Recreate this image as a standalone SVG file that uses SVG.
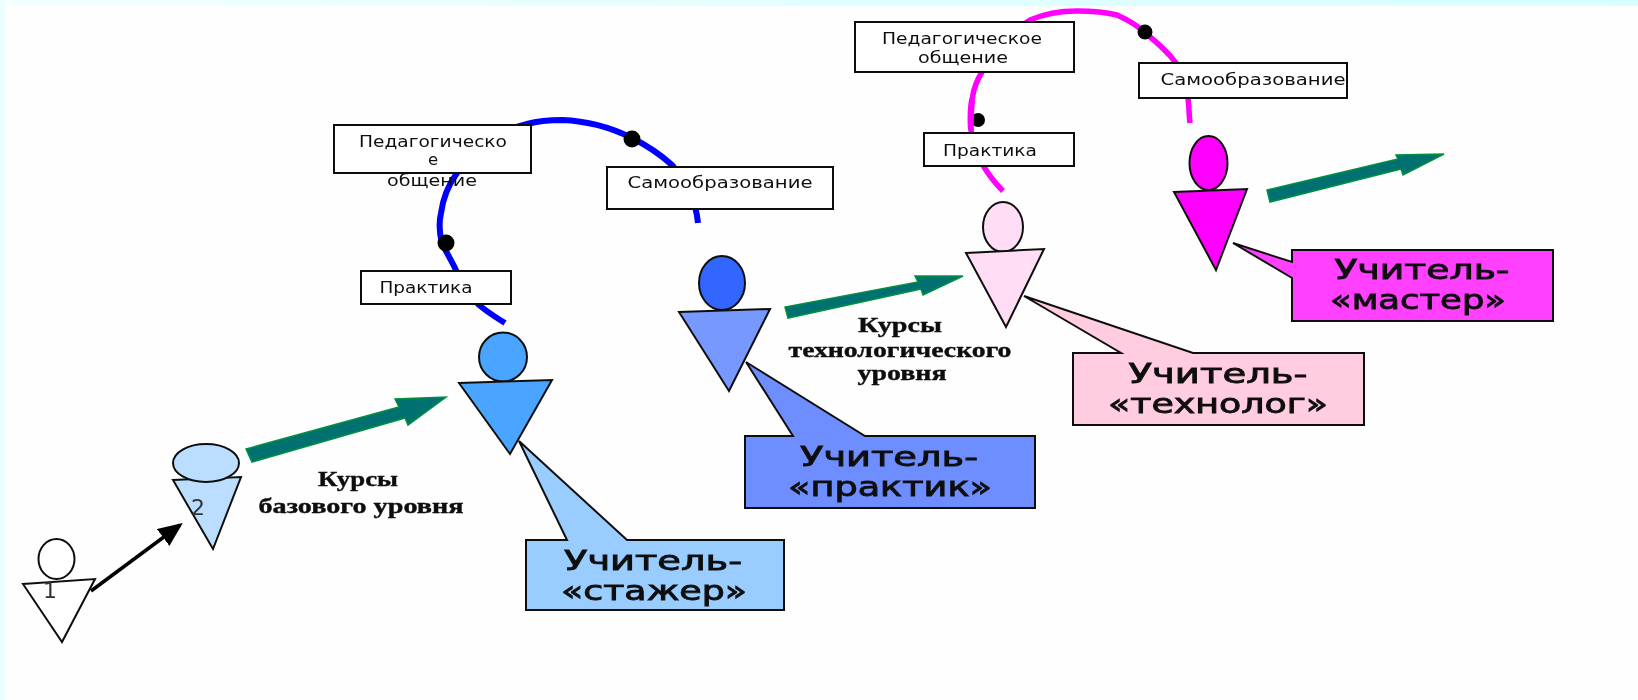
<svg xmlns="http://www.w3.org/2000/svg" width="1638" height="700" viewBox="0 0 1638 700">
<style>
.fig{stroke:#111;stroke-width:2}
.box{fill:#fff;stroke:#111;stroke-width:2}
.call{stroke:#111;stroke-width:2}
.small{font-family:"DejaVu Sans",sans-serif;font-size:16.5px;fill:#111}
.big{font-family:"DejaVu Sans",sans-serif;font-size:27px;fill:#111;stroke:#111;stroke-width:.9}
.serif{font-family:"Liberation Serif",serif;font-size:22px;font-weight:bold;fill:#111;stroke:#111;stroke-width:.4}
.num{font-family:"DejaVu Sans",sans-serif;font-size:22px;fill:#333}
.arcb{fill:none;stroke:#0000ff;stroke-width:6}
.arcm{fill:none;stroke:#ff00ff;stroke-width:5.5}
.green{fill:#007070;stroke:#009040;stroke-width:1.5}
.dot{fill:#000}
</style>
<defs>
<linearGradient id="edge" x1="0" x2="1" y1="0" y2="0"><stop offset="0" stop-color="#f4ffff"/><stop offset=".5" stop-color="#e2ffff"/><stop offset="1" stop-color="#d8ffff"/></linearGradient>
<marker id="head" markerWidth="7" markerHeight="6" refX="6" refY="3" orient="auto"><path d="M0 0L7 3L0 6Z" fill="#000"/></marker>
<filter id="soft" x="-2%" y="-2%" width="104%" height="104%"><feGaussianBlur stdDeviation="0.7"/></filter>
</defs>
<rect width="1638" height="700" fill="#fefefe"/>
<rect width="1638" height="6" fill="url(#edge)"/>
<rect width="5" height="700" fill="#ecffff"/>
<g filter="url(#soft)">
<g id="connectors">
<path class="arcb" d="M505 323C492 315 484 310 477 303C466 291 459 280 455 268C450 258 445 250 442 243C439 232 439 222 441 213C443 198 449 184 457 173C473 150 500 130 527 124C538 121 549 120 562 120C588 121 612 128 632 138C648 146 661 155 672 165C684 178 696 200 698 223"/>
<path class="arcm" d="M1003 191C995 183 989 175 984 167C976 152 972 140 970.5 127C970 116 970 106 972.5 97C974 87 977 80 982 72C993 50 1010 32 1030 20C1046 13 1061 11 1077 11C1092 11 1105 12 1117 15C1128 20 1137 25 1144 32C1158 43 1168 52 1176 63C1183 75 1187 86 1188 98C1189 106 1189 115 1190 123"/>
<circle class="dot" cx="632" cy="139" r="8.5"/>
<circle class="dot" cx="446" cy="243" r="8.5"/>
<circle class="dot" cx="1145" cy="32" r="7.5"/>
<circle class="dot" cx="978" cy="120" r="7"/>
<path class="arcm" d="M972.5 100C971 110 971 120 971 130"/>
<line x1="91" y1="591" x2="180" y2="525" stroke="#000" stroke-width="3.5" marker-end="url(#head)"/>
<polygon class="green" points="246,449 252,462 405,418 408,425 446,397 395,399 399,407"/>
<polygon class="green" points="785,307 788,318 921,289 923,295 963,276 915,276 918,282"/>
<polygon class="green" points="1267,190 1270,202 1401,169 1403,175 1444,154 1396,155 1398,159"/>
</g>
<g id="box-ped-1"><rect class="box" x="334" y="125" width="197" height="48"/><text class="small" x="433" y="147" text-anchor="middle" textLength="148" lengthAdjust="spacingAndGlyphs">Педагогическо</text><text class="small" x="433" y="165" text-anchor="middle">е</text><text class="small" x="432" y="186" text-anchor="middle" textLength="90" lengthAdjust="spacingAndGlyphs">общение</text></g>
<g id="box-self-1"><rect class="box" x="607" y="167" width="226" height="42"/><text class="small" x="720" y="188" text-anchor="middle" textLength="185" lengthAdjust="spacingAndGlyphs">Самообразование</text></g>
<g id="box-prac-1"><rect class="box" x="361" y="271" width="150" height="33"/><text class="small" x="426" y="293" text-anchor="middle" textLength="93" lengthAdjust="spacingAndGlyphs">Практика</text></g>
<g id="box-ped-2"><rect class="box" x="855" y="22" width="219" height="50"/><text class="small" x="962" y="44" text-anchor="middle" textLength="160" lengthAdjust="spacingAndGlyphs">Педагогическое</text><text class="small" x="963" y="63" text-anchor="middle" textLength="90" lengthAdjust="spacingAndGlyphs">общение</text></g>
<g id="box-self-2"><rect class="box" x="1139" y="63" width="208" height="35"/><text class="small" x="1253" y="85" text-anchor="middle" textLength="185" lengthAdjust="spacingAndGlyphs">Самообразование</text></g>
<g id="box-prac-2"><rect class="box" x="924" y="133" width="150" height="33"/><text class="small" x="990" y="156" text-anchor="middle" textLength="94" lengthAdjust="spacingAndGlyphs">Практика</text></g>
<g id="person-1"><ellipse class="fig" cx="56.5" cy="559" rx="18" ry="20" fill="#fff"/><polygon class="fig" points="23,584 95,579 62,642" fill="#fff"/><text class="num" x="50" y="598" text-anchor="middle">1</text></g>
<g id="person-2"><polygon class="fig" points="173,480 241,477 213,549" fill="#bbddff"/><ellipse class="fig" cx="206" cy="463" rx="33" ry="19" fill="#bbddff"/><text class="num" x="198" y="515" text-anchor="middle">2</text></g>
<g id="person-3"><ellipse class="fig" cx="503" cy="357" rx="24" ry="24.5" fill="#4aa5ff"/><polygon class="fig" points="459,383 552,380 510,454" fill="#4aa5ff"/></g>
<g id="person-4"><ellipse class="fig" cx="722" cy="283" rx="23" ry="27" fill="#3366ff"/><polygon class="fig" points="679,312 770,309 729,391" fill="#7799ff"/></g>
<g id="person-5"><ellipse class="fig" cx="1003" cy="227" rx="20" ry="25" fill="#ffddf5"/><polygon class="fig" points="966,253 1044,249 1006,327" fill="#ffddf5"/></g>
<g id="person-6"><ellipse class="fig" cx="1208.5" cy="163" rx="19" ry="27" fill="#ff00ff"/><polygon class="fig" points="1174,192 1247,189 1216,270" fill="#ff00ff"/></g>
<g id="callout-stazher"><polygon class="call" fill="#99ccff" points="519,441 627,540 784,540 784,610 526,610 526,540 567,540"/><text class="big" x="653" y="570" text-anchor="middle" textLength="178" lengthAdjust="spacingAndGlyphs">Учитель-</text><text class="big" x="654" y="600" text-anchor="middle" textLength="186" lengthAdjust="spacingAndGlyphs">«стажер»</text></g>
<g id="callout-praktik"><polygon class="call" fill="#6e8eff" points="746,362 865,436 1035,436 1035,508 745,508 745,436 793,436"/><text class="big" x="889" y="466" text-anchor="middle" textLength="178" lengthAdjust="spacingAndGlyphs">Учитель-</text><text class="big" x="890" y="496" text-anchor="middle" textLength="204" lengthAdjust="spacingAndGlyphs">«практик»</text></g>
<g id="callout-tehnolog"><polygon class="call" fill="#ffcce0" points="1024,296 1193,353 1364,353 1364,425 1073,425 1073,353 1121,353"/><text class="big" x="1218" y="383" text-anchor="middle" textLength="179" lengthAdjust="spacingAndGlyphs">Учитель-</text><text class="big" x="1218" y="413" text-anchor="middle" textLength="220" lengthAdjust="spacingAndGlyphs">«технолог»</text></g>
<g id="callout-master"><polygon class="call" fill="#ff40ff" points="1233,243 1292,262 1292,250 1553,250 1553,321 1292,321 1292,278"/><text class="big" x="1422" y="279" text-anchor="middle" textLength="175" lengthAdjust="spacingAndGlyphs">Учитель-</text><text class="big" x="1418" y="309" text-anchor="middle" textLength="176" lengthAdjust="spacingAndGlyphs">«мастер»</text></g>
<g id="label-base"><text class="serif" x="358" y="486" text-anchor="middle" textLength="80" lengthAdjust="spacingAndGlyphs">Курсы</text><text class="serif" x="361" y="513" text-anchor="middle" textLength="205" lengthAdjust="spacingAndGlyphs">базового уровня</text></g>
<g id="label-tech"><text class="serif" x="900" y="332" text-anchor="middle" textLength="84" lengthAdjust="spacingAndGlyphs">Курсы</text><text class="serif" x="900" y="357" text-anchor="middle" textLength="223" lengthAdjust="spacingAndGlyphs">технологического</text><text class="serif" x="902" y="380" text-anchor="middle" textLength="89" lengthAdjust="spacingAndGlyphs">уровня</text></g>
</g>
</svg>
